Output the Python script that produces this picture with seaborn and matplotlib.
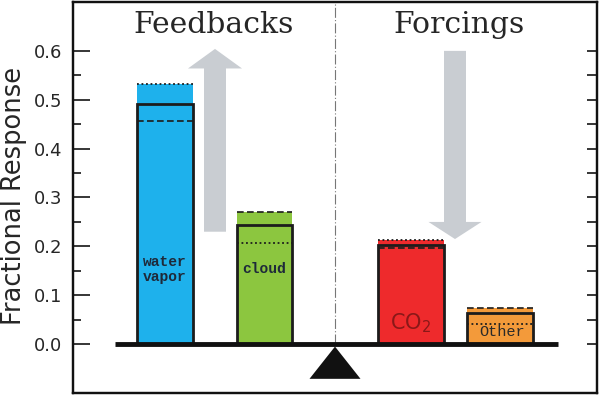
import numpy as np
import matplotlib
matplotlib.use("Agg")
import matplotlib.pyplot as plt
from matplotlib.patches import FancyArrow, Polygon
import seaborn as sns

# values
categories = ["water vapor", "cloud", "CO2", "other"]
bar_labels = ["water\nvapor", "cloud", "CO$_2$", "Other"]
fill_top = [0.533, 0.270, 0.213, 0.074]
solid_box = [0.492, 0.244, 0.203, 0.064]
dashed = [0.457, 0.270, 0.197, 0.074]
dotted = [0.533, 0.207, 0.213, 0.041]
colors = ["#1EB1EC", "#8CC63F", "#EE2A2C", "#F39A3A"]

# layout (x units ~ 100 px)
xpos = [0.92, 1.915, 3.38, 4.27]
widths = [0.56, 0.55, 0.66, 0.66]
divider = 2.62
edge = "#1c1c1c"

sns.set_style("ticks")
fig = plt.figure(figsize=(6, 3.95), dpi=100)
ax = fig.add_axes([73 / 600, 2 / 395, 524 / 600, 391 / 395])

sns.barplot(x=xpos, y=fill_top, hue=categories, palette=colors, native_scale=True,
            saturation=1, errorbar=None, legend=False, linewidth=0, ax=ax)
for patch, x, w in zip(ax.patches, xpos, widths):
    patch.set_x(x - w / 2)
    patch.set_width(w)

# outlined central estimate
ax.bar(xpos, solid_box, width=widths, fill=False, edgecolor=edge, linewidth=2, zorder=3)
for x, w, d, p in zip(xpos, widths, dashed, dotted):
    ax.hlines(d, x - w / 2, x + w / 2, colors=edge, linestyles=(0, (4, 2)), lw=1.2, zorder=3)
    ax.hlines(p, x - w / 2, x + w / 2, colors=edge, linestyles=(0, (1, 1.5)), lw=1.3, zorder=3)

# labels inside bars
for x, lab in zip(xpos, bar_labels):
    if lab.startswith("CO"):
        ax.text(x, 0.042, lab, ha="center", va="center", fontsize=15, color="#8A1818",
                family="DejaVu Sans")
    elif lab == "Other":
        ax.text(x - 0.21, 0.025, lab, ha="left", va="center", fontsize=11,
                family="Liberation Mono", color="#2a2a2a")
    else:
        ax.text(x, 0.153, lab, ha="center", va="center", fontsize=10.5, fontweight="bold",
                family="Liberation Mono", color="#1e2a3a", linespacing=1.05)

# gray arrows
arrow_col = "#C9CDD2"
ax.add_patch(FancyArrow(1.42, 0.23, 0, 0.374, width=0.22, head_width=0.54, head_length=0.04,
                        length_includes_head=True, color=arrow_col, lw=0, zorder=1))
ax.add_patch(FancyArrow(3.82, 0.60, 0, -0.385, width=0.22, head_width=0.53, head_length=0.035,
                        length_includes_head=True, color=arrow_col, lw=0, zorder=1))

# see-saw baseline, pivot and divider
ax.plot([0.42, 4.85], [0, 0], color="#111111", lw=3.5, solid_capstyle="butt", zorder=4)
ax.add_patch(Polygon([[divider - 0.255, -0.071], [divider + 0.255, -0.071], [divider, -0.005]],
                     closed=True, color="#111111", lw=0, zorder=4))
ax.plot([divider, divider], [0, 0.7], color="#777777", lw=0.8,
        linestyle=(0, (9, 2, 1, 2)), zorder=0)

ax.text(1.41, 0.652, "Feedbacks", ha="center", va="center", fontsize=21.5, family="DejaVu Serif")
ax.text(3.86, 0.652, "Forcings", ha="center", va="center", fontsize=21.5, family="DejaVu Serif")

ax.set_xlim(0, 5.24)
ax.set_ylim(-0.1, 0.7)
ax.set_xticks([])
ax.set_yticks(np.arange(0, 0.61, 0.1))
ax.set_yticks(np.arange(0.05, 0.6, 0.1), minor=True)
ax.set_yticklabels([f"{v:.1f}" for v in np.arange(0, 0.61, 0.1)])
ax.tick_params(axis="y", which="major", direction="in", length=12, width=1.3,
               labelsize=13, pad=8, left=True, right=False)
ax.tick_params(axis="y", which="minor", direction="in", length=6, width=1.3, left=True)
ax.set_xlabel("")
ax.set_ylabel("Fractional Response", fontsize=18.5)
ax.yaxis.set_label_coords(-0.088, 0.504)

ax2 = ax.twinx()
ax2.set_ylim(-0.1, 0.7)
ax2.set_yticks(np.arange(0, 0.61, 0.1))
ax2.set_yticks(np.arange(0.05, 0.6, 0.1), minor=True)
ax2.set_yticklabels([])
ax2.tick_params(axis="y", which="both", direction="in", length=7, width=1.3)

for a in (ax, ax2):
    for s in a.spines.values():
        s.set_linewidth(1.6)
        s.set_color("#111111")

fig.savefig("out.png", dpi=100)
